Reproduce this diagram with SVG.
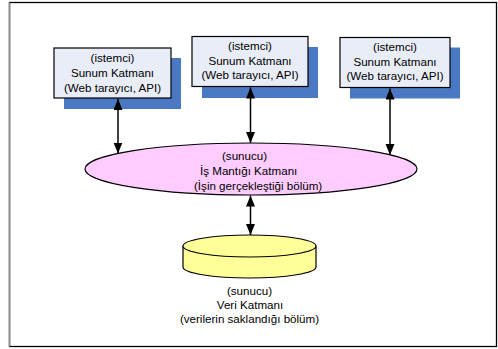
<svg xmlns="http://www.w3.org/2000/svg" width="498" height="349" viewBox="0 0 498 349">
<style>
.t{font-family:"Liberation Sans",Arial,sans-serif;font-size:11.6px;fill:#000;}
.c{text-anchor:middle;}
.box{fill:#e8edf8;stroke:#000;stroke-width:1.2;}
.sh{fill:#4a78c2;}
.ln{stroke:#000;stroke-width:1.5;fill:none;marker-start:url(#ah);marker-end:url(#ah);}
</style>
<defs>
<marker id="ah" markerUnits="userSpaceOnUse" markerWidth="12" markerHeight="10" refX="11" refY="4.5" orient="auto-start-reverse" viewBox="0 0 12 10">
<path d="M0,0 L11,4.5 L0,9 z" fill="#000"/>
</marker>
</defs>
<rect x="9.5" y="2.5" width="487" height="344" fill="#fff" stroke="#000" stroke-width="1.3"/>
<line x1="9.5" y1="2.5" x2="9.5" y2="346.5" stroke="#888" stroke-width="1.5"/>
<g id="client1">
<rect class="sh" x="64" y="58" width="117" height="51"/>
<rect class="box" x="54" y="48" width="117" height="50"/>
<text class="t c" x="112.5" y="61.5">(istemci)</text>
<text class="t c" x="112.5" y="76.5">Sunum Katmanı</text>
<text class="t c" x="112.5" y="91.5">(Web tarayıcı, API)</text>
</g>
<g id="client2">
<rect class="sh" x="202" y="47" width="116" height="51"/>
<rect class="box" x="192" y="36.5" width="116" height="50"/>
<text class="t c" x="250" y="49.5">(istemci)</text>
<text class="t c" x="250" y="64.5">Sunum Katmanı</text>
<text class="t c" x="250" y="79">(Web tarayıcı, API)</text>
</g>
<g id="client3">
<rect class="sh" x="350" y="47.5" width="110" height="51"/>
<rect class="box" x="340" y="37.5" width="110" height="50"/>
<text class="t c" x="395" y="50.5">(istemci)</text>
<text class="t c" x="395" y="65.5">Sunum Katmanı</text>
<text class="t c" x="395" y="80">(Web tarayıcı, API)</text>
</g>
<g id="business">
<ellipse cx="251" cy="169" rx="166" ry="26" fill="#ffccff" stroke="#000" stroke-width="1.2"/>
<text class="t" x="222" y="160">(sunucu)</text>
<text class="t" x="200" y="175">İş  Mantığı Katmanı</text>
<text class="t" x="194" y="190">(İşin gerçekleştiği bölüm)</text>
</g>
<g id="data">
<path d="M183,246 L183,267 A66.5,11 0 0 0 316,267 L316,246" fill="#ffff99" stroke="#000" stroke-width="1.2"/>
<ellipse cx="249.5" cy="246" rx="66.5" ry="11" fill="#ffff99" stroke="#000" stroke-width="1.2"/>
<text class="t c" x="249.5" y="294.5">(sunucu)</text>
<text class="t c" x="250" y="308.5">Veri  Katmanı</text>
<text class="t c" x="249.5" y="322.5">(verilerin saklandığı bölüm)</text>
</g>
<g id="connectors">
<line class="ln" x1="118" y1="99" x2="118" y2="153.5"/>
<line class="ln" x1="250.5" y1="87.5" x2="250.5" y2="143"/>
<line class="ln" x1="390" y1="88.5" x2="390" y2="155"/>
<line class="ln" x1="250.5" y1="195.5" x2="250.5" y2="235"/>
</g>
</svg>
